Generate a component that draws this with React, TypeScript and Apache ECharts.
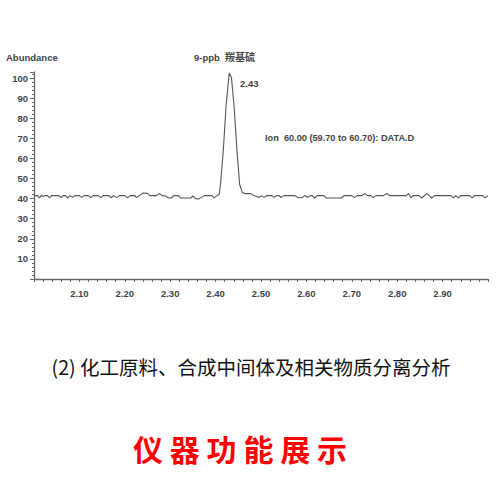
import React, { useEffect, useRef } from "react";
import * as echarts from "echarts";

// Retention time (min) and abundance
const retentionTimes = [
  2.0, 2.008, 2.012, 2.016, 2.02, 2.023, 2.03, 2.034, 2.038, 2.055, 2.06, 2.064, 2.07, 2.074, 2.079, 2.085,
  2.09, 2.1, 2.105, 2.11, 2.12, 2.125, 2.13, 2.142, 2.147, 2.152, 2.165, 2.17, 2.175, 2.182, 2.188, 2.2,
  2.206, 2.212, 2.222, 2.226, 2.232, 2.24, 2.25, 2.255, 2.27, 2.276, 2.282, 2.29, 2.296, 2.302, 2.308, 2.318,
  2.323, 2.345, 2.35, 2.356, 2.362, 2.368, 2.375, 2.392, 2.397, 2.403, 2.408, 2.411, 2.417, 2.423, 2.43,
  2.435, 2.441, 2.447, 2.453, 2.459, 2.465, 2.478, 2.484, 2.496, 2.501, 2.507, 2.512, 2.524, 2.529, 2.534,
  2.54, 2.544, 2.55, 2.575, 2.582, 2.59, 2.596, 2.603, 2.609, 2.613, 2.618, 2.624, 2.638, 2.644, 2.677,
  2.683, 2.7, 2.706, 2.712, 2.722, 2.729, 2.735, 2.742, 2.747, 2.753, 2.77, 2.777, 2.783, 2.82, 2.825, 2.83,
  2.835, 2.848, 2.854, 2.865, 2.871, 2.876, 2.882, 2.918, 2.924, 2.929, 2.935, 2.94, 2.96, 2.965, 2.97,
  2.988, 2.994, 3.0,
];
const abundance = [
  41.5, 41.5, 40.3, 41.5, 41.0, 41.5, 41.5, 40.3, 41.5, 41.5, 40.5, 41.5, 41.5, 40.2, 41.5, 40.6,
  41.5, 41.5, 40.6, 41.5, 41.5, 40.5, 41.5, 41.5, 40.5, 41.5, 41.5, 40.4, 41.5, 40.5, 41.5, 41.5,
  40.4, 41.5, 41.5, 40.5, 41.5, 42.8, 42.6, 41.5, 41.5, 42.6, 41.5, 41.3, 40.3, 40.3, 41.5, 41.5,
  40.3, 40.3, 41.3, 40.0, 39.8, 40.5, 41.5, 41.5, 40.4, 41.5, 42.3, 47.4, 64, 86, 102.5,
  100, 85, 64, 47, 43, 42.5, 42.5, 41.5, 40.6, 41.5, 40.6, 41.5, 41.5, 40.6, 41.5,
  41.5, 40.5, 41.5, 41.5, 40.4, 40.4, 41.5, 40.6, 41.5, 41.5, 40.3, 41.5, 41.5, 40.3, 40.3,
  41.5, 41.5, 40.5, 41.5, 41.5, 42.5, 41.5, 41.5, 40.5, 41.5, 41.5, 42.6, 41.5, 41.5, 42.6, 40.4,
  41.5, 41.5, 40.3, 42.5, 41.5, 40.3, 41.5, 41.5, 40.4, 41.5, 40.4, 41.5, 41.5, 40.4, 41.5,
  41.5, 40.4, 41.5,
];

const xMin = 2.0;
const xMax = 3.0;
const xInterval = 0.1;
const yMin = 0;
const yMax = 103;
const yInterval = 10;

const yAxisName = "Abundance";
const compoundPrefix = "9-ppb";
const compoundName = "羰基硫";
const peakLabel = "2.43";
const ionLabel = "Ion  60.00 (59.70 to 60.70): DATA.D";
const caption = "(2) 化工原料、合成中间体及相关物质分离分析";
const banner = "仪 器 功 能 展 示";

const axisFont = "'Liberation Sans', Arial, sans-serif";

export default function App() {
  const ref = useRef<HTMLDivElement>(null);

  useEffect(() => {
    if (!ref.current) return;
    const chart = echarts.init(ref.current, undefined, { renderer: "svg" });
    const data = retentionTimes.map((t, i) => [t, abundance[i]]);

    chart.setOption({
      animation: false,
      backgroundColor: "#ffffff",
      grid: { left: 34, right: 12, top: 72, bottom: 221, containLabel: false },
      xAxis: {
        type: "value",
        min: xMin,
        max: xMax,
        interval: xInterval,
        axisLine: { show: true, lineStyle: { color: "#666", width: 1.3 } },
        axisTick: { show: true, length: 3, lineStyle: { color: "#666" } },
        minorTick: { show: true, splitNumber: 5, length: 3, lineStyle: { color: "#666" } },
        splitLine: { show: false },
        axisLabel: {
          showMinLabel: false,
          showMaxLabel: false,
          margin: 9,
          color: "#444",
          fontSize: 9.5,
          fontWeight: "bold",
          fontFamily: axisFont,
          formatter: (v: number) => v.toFixed(2),
        },
      },
      yAxis: {
        type: "value",
        min: yMin,
        max: yMax,
        interval: yInterval,
        axisLine: { show: true, lineStyle: { color: "#666", width: 1.3 } },
        axisTick: { show: true, length: 4, lineStyle: { color: "#666" } },
        minorTick: { show: true, splitNumber: 5, length: 2, lineStyle: { color: "#666" } },
        splitLine: { show: false },
        axisLabel: {
          showMinLabel: false,
          showMaxLabel: false,
          margin: 6,
          color: "#444",
          fontSize: 9.5,
          fontWeight: "bold",
          fontFamily: axisFont,
        },
      },
      series: [
        {
          type: "line",
          data,
          showSymbol: false,
          symbol: "none",
          lineStyle: { color: "#555", width: 1.1 },
        },
      ],
      graphic: [
        {
          type: "text",
          left: 6,
          top: 52,
          style: { text: yAxisName, fill: "#444", font: `bold 9.5px ${axisFont}` },
        },
        {
          type: "text",
          left: 194,
          top: 52,
          style: { text: compoundPrefix, fill: "#444", font: `bold 9.5px ${axisFont}` },
        },
        {
          type: "text",
          left: 225,
          top: 51,
          style: {
            text: compoundName,
            fill: "#444",
            font: `bold 10px 'Noto Sans CJK SC', sans-serif`,
          },
        },
        {
          type: "text",
          left: 240,
          top: 78,
          style: { text: peakLabel, fill: "#444", font: `bold 9.5px ${axisFont}` },
        },
        {
          type: "text",
          left: 265,
          top: 133,
          style: { text: ionLabel, fill: "#444", font: `bold 9.2px ${axisFont}` },
        },
        {
          type: "text",
          x: 251,
          y: 366,
          style: {
            text: caption,
            fill: "#111",
            align: "center",
            verticalAlign: "middle",
            font: `19.5px 'Noto Sans CJK SC', sans-serif`,
          },
        },
        {
          type: "text",
          x: 240,
          y: 448,
          style: {
            text: banner,
            fill: "#ff0000",
            align: "center",
            verticalAlign: "middle",
            font: `bold 30px 'Noto Sans CJK SC', sans-serif`,
          },
        },
      ],
    });

    return () => chart.dispose();
  }, []);

  return (
    <div
      ref={ref}
      style={{ position: "fixed", left: 0, top: 0, width: 500, height: 500, background: "#fff" }}
    />
  );
}
